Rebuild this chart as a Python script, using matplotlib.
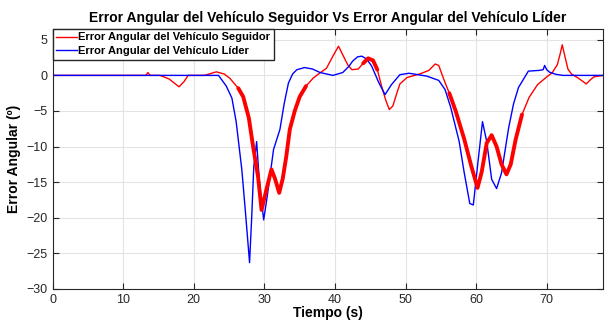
import matplotlib
matplotlib.use('Agg')
import matplotlib.pyplot as plt
import numpy as np

plt.rcParams['font.family'] = ['Liberation Sans', 'DejaVu Sans']

# follower (red) angular error
t_seg = [0, 13.2, 13.5, 13.8, 15.2, 16.5, 17.9, 18.6, 19.2, 21.5, 23.2, 24.3, 25.1, 26.3, 27.0,
         27.8, 28.4, 29.1, 29.6, 30.3, 31.0, 31.5, 32.1, 32.6, 33.1, 33.6, 34.3, 35.0, 35.9, 36.9,
         37.8, 38.8, 39.7, 40.5, 41.2, 41.8, 42.4, 43.3, 44.0, 44.7, 45.4, 46.0, 46.6, 47.2, 47.7,
         48.2, 48.7, 49.2, 50.2, 52.0, 53.3, 54.2, 54.7, 55.4, 56.2, 57.1, 58.3, 59.3, 60.2, 60.8,
         61.5, 62.2, 62.9, 63.6, 64.3, 64.9, 65.6, 66.5, 67.5, 68.7, 69.9, 70.8, 71.5, 71.9, 72.2,
         72.5, 73.0, 73.5, 74.5, 75.6, 76.2, 76.7, 78]
v_seg = [0, 0, 0.4, 0, 0, -0.5, -1.6, -0.9, 0, 0, 0.5, 0.2, -0.4, -1.8, -3,
         -6, -10, -14.2, -18.9, -16, -13.2, -14.5, -16.5, -14.5, -11.4, -7.6, -5, -3, -1.5, -0.4,
         0.3, 1, 2.7, 4.1, 2.7, 1.5, 0.8, 0.9, 1.7, 2.4, 2.1, 0.8, -1.5, -3.5, -4.8,
         -4.3, -2.7, -1.2, -0.3, 0.2, 0.7, 1.6, 1.4, -0.5, -2.5, -5, -8.9, -12.7, -15.8, -13.5,
         -9.5, -8.4, -10, -12.5, -13.9, -12.5, -9, -5.5, -3.1, -1.3, -0.3, 0.4, 1.5, 3, 4.3,
         3, 0.9, 0.2, -0.4, -1.2, -0.6, -0.2, 0]

# leader (blue) angular error
t_lid = [0, 23.5, 24.6, 25.4, 26.0, 26.8, 27.3, 27.9, 28.2, 28.5, 28.9, 29.3, 29.9, 30.4, 31.3,
         32.2, 32.8, 33.4, 34.0, 34.6, 35.7, 36.8, 37.9, 39.7, 41.1, 42.0, 42.5, 43.2, 43.8, 44.5,
         45.2, 46.2, 47.1, 48.0, 49.2, 50.5, 53.0, 54.7, 55.6, 56.4, 57.6, 58.3, 59.1, 59.6, 60.2,
         60.9, 61.5, 62.2, 62.9, 63.6, 64.6, 65.3, 66.0, 67.4, 68.9, 69.5, 69.7, 70.0, 70.4, 71.3,
         72.3, 78]
v_lid = [0, 0, -1.5, -3.2, -6.5, -13.2, -19, -26.3, -20, -12.8, -9.3, -15, -20.3, -17, -10.4,
         -7.6, -4, -1.1, 0.2, 0.8, 1.1, 0.9, 0.4, 0, 0.4, 1.3, 2, 2.6, 2.7, 2.3,
         1.3, -1, -2.7, -1.3, 0.1, 0.3, -0.1, -0.7, -2, -4.5, -9.3, -13.6, -18, -18.2, -12.7,
         -6.5, -9.3, -14.6, -15.9, -13.7, -7.4, -4, -1.7, 0.6, 0.7, 0.8, 1.4, 0.8, 0.45, 0.15,
         0, 0]

# time windows where the follower signal chatters (drawn thick)
chatter = [(25.8, 36.2), (44.0, 46.0), (55.6, 66.8)]

labels = ['Error Angular del Vehículo Seguidor', 'Error Angular del Vehículo Líder']

fig = plt.figure(figsize=(6.05, 3.2), dpi=100)
ax = fig.add_axes([0.087, 0.097, 0.91, 0.812])

t_seg = np.array(t_seg)
v_seg = np.array(v_seg)
ax.plot(t_seg, v_seg, color='red', lw=1.0, label=labels[0])
ax.plot(t_lid, v_lid, color='blue', lw=1.0, label=labels[1])
for a, b in chatter:
    m = (t_seg >= a) & (t_seg <= b)
    ax.plot(t_seg[m], v_seg[m], color='red', lw=2.8, solid_capstyle='round', solid_joinstyle='round')

ax.set_xlim(0, 78)
ax.set_ylim(-30, 6.5)
ax.set_xticks(np.arange(0, 71, 10))
ax.set_yticks(np.arange(-30, 6, 5))
ax.grid(True, color='#e3e3e3', lw=0.8)
ax.set_axisbelow(True)
ax.tick_params(direction='in', top=True, right=True, labelsize=9, colors='#262626', length=4)
for s in ax.spines.values():
    s.set_color('#262626')
    s.set_linewidth(0.8)

ax.set_title('Error Angular del Vehículo Seguidor Vs Error Angular del Vehículo Líder',
             fontsize=10, fontweight='bold', pad=5)
ax.set_xlabel('Tiempo (s)', fontsize=10, fontweight='bold', labelpad=0)
ax.set_ylabel('Error Angular (º)', fontsize=10, fontweight='bold')
ax.yaxis.set_label_coords(-0.058, 0.5)

ax.legend(loc='upper left', bbox_to_anchor=(0, 1.0), prop={'weight': 'bold', 'size': 8},
          frameon=True, fancybox=False, edgecolor='#262626', framealpha=1,
          borderpad=0.3, handlelength=1.9, handletextpad=0.1, labelspacing=0.35, borderaxespad=0)

fig.savefig('out.png', dpi=100)
